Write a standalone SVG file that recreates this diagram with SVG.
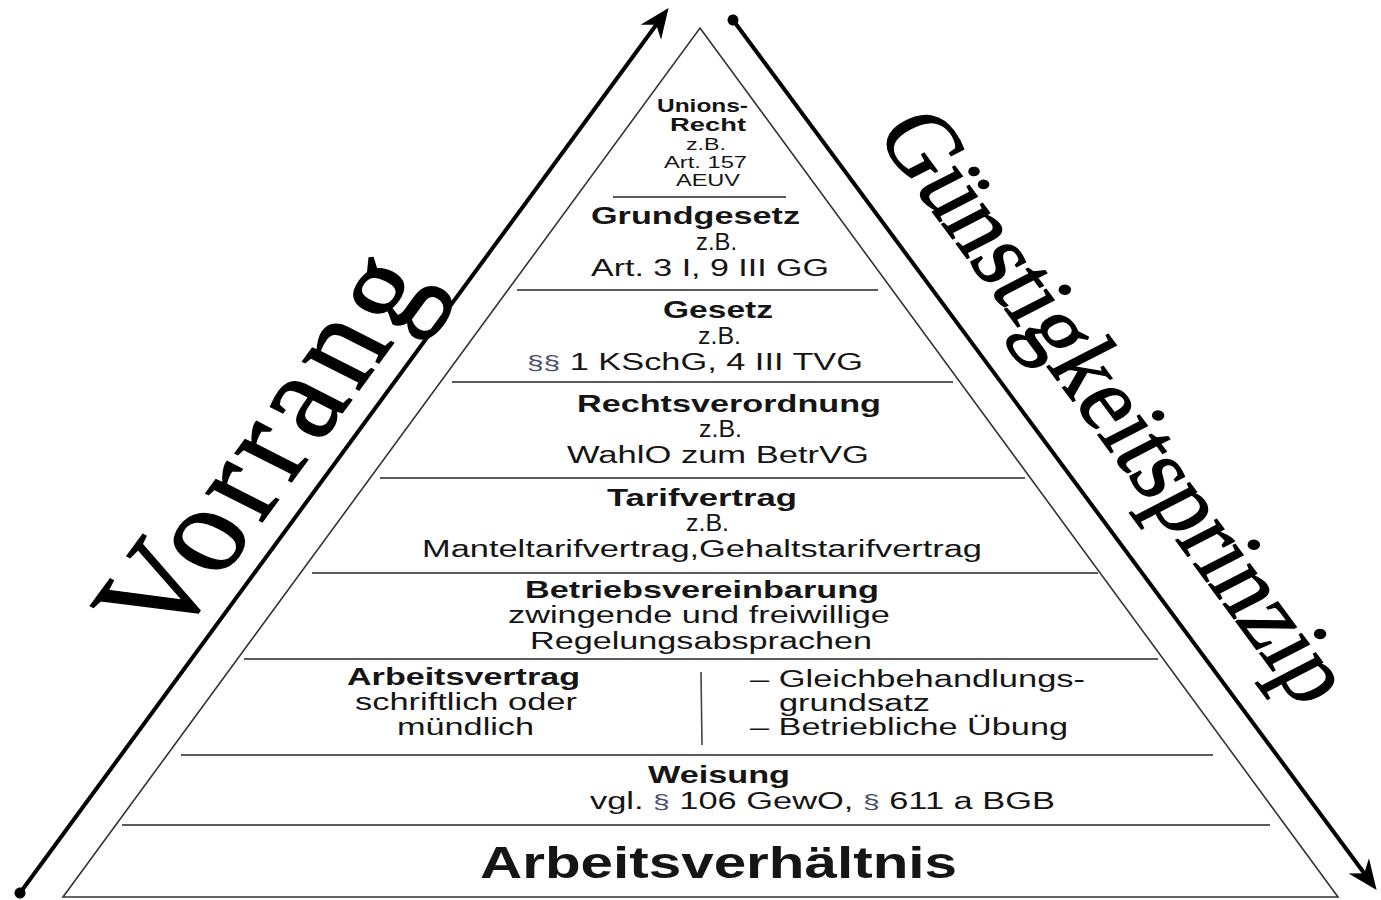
<svg xmlns="http://www.w3.org/2000/svg" width="1381" height="900" viewBox="0 0 1381 900">
<style>
.t{font-family:"Liberation Sans",Arial,sans-serif;font-size:23px;fill:#151515}
.b{font-weight:bold}
.s{font-size:16px}
.u{font-size:19px}
.p{fill:#44506a;font-size:20px}
.big{font-family:"Liberation Serif","Times New Roman",serif;fill:#000;stroke:#000;stroke-width:1.2}
.sep{stroke:#5a5a5a;stroke-width:2}
.arr{stroke:#000;stroke-width:4;fill:none}
</style>
<defs>
<marker id="head" markerUnits="userSpaceOnUse" markerWidth="40" markerHeight="30" viewBox="-14 -13 30 26" refX="0" refY="0" orient="auto" overflow="visible">
<path d="M14,0 L-12,-11 L-4,0 L-12,11 Z" fill="#000"/>
</marker>
<marker id="dot" markerUnits="userSpaceOnUse" markerWidth="14" markerHeight="14" viewBox="-7 -7 14 14" refX="0" refY="0" orient="auto">
<circle r="5.5" fill="#000"/>
</marker>
</defs>
<rect width="1381" height="900" fill="#fff"/>

<g id="connectors">
<path class="arr" d="M20,893 L659,21" marker-start="url(#dot)" marker-end="url(#head)"/>
<path class="arr" d="M733,20 L1367,877" marker-start="url(#dot)" marker-end="url(#head)"/>
</g>

<g id="pyramid">
<path d="M700,28 L1338,897 L63,897 Z" fill="none" stroke="#333" stroke-width="1.6"/>
<line class="sep" x1="613" y1="197" x2="786" y2="197"/>
<line class="sep" x1="517" y1="290" x2="878" y2="290"/>
<line class="sep" x1="452" y1="382" x2="953" y2="382"/>
<line class="sep" x1="380" y1="478" x2="1025" y2="478"/>
<line class="sep" x1="312" y1="573" x2="1098" y2="573"/>
<line class="sep" x1="244" y1="659" x2="1158" y2="659"/>
<line class="sep" x1="181" y1="755" x2="1213" y2="755"/>
<line class="sep" x1="122" y1="825" x2="1270" y2="825" stroke="#8a8a8a"/>
</g>

<g id="unionsrecht">
<text class="t b u" x="657" y="112" textLength="91" lengthAdjust="spacingAndGlyphs">Unions-</text>
<text class="t b u" x="670" y="131" textLength="76" lengthAdjust="spacingAndGlyphs">Recht</text>
<text class="t s" x="686" y="150" textLength="40" lengthAdjust="spacingAndGlyphs">z.B.</text>
<text class="t s" x="664" y="168" textLength="83" lengthAdjust="spacingAndGlyphs">Art. 157</text>
<text class="t s" x="676" y="186" textLength="64" lengthAdjust="spacingAndGlyphs">AEUV</text>
</g>

<g id="grundgesetz">
<text class="t b" x="591" y="224" textLength="209" lengthAdjust="spacingAndGlyphs">Grundgesetz</text>
<text class="t" x="696" y="250" textLength="41" lengthAdjust="spacingAndGlyphs">z.B.</text>
<text class="t" x="591" y="276" textLength="238" lengthAdjust="spacingAndGlyphs">Art. 3 I, 9 III GG</text>
</g>

<g id="gesetz">
<text class="t b" x="663" y="318" textLength="110" lengthAdjust="spacingAndGlyphs">Gesetz</text>
<text class="t" x="698" y="344" textLength="43" lengthAdjust="spacingAndGlyphs">z.B.</text>
<text class="t" x="527" y="370" textLength="336" lengthAdjust="spacingAndGlyphs"><tspan class="p">§§</tspan> 1 KSchG, 4 III TVG</text>
</g>

<g id="rechtsverordnung">
<text class="t b" x="577" y="412" textLength="304" lengthAdjust="spacingAndGlyphs">Rechtsverordnung</text>
<text class="t" x="699" y="437" textLength="43" lengthAdjust="spacingAndGlyphs">z.B.</text>
<text class="t" x="567" y="463" textLength="302" lengthAdjust="spacingAndGlyphs">WahlO zum BetrVG</text>
</g>

<g id="tarifvertrag">
<text class="t b" x="607" y="506" textLength="190" lengthAdjust="spacingAndGlyphs">Tarifvertrag</text>
<text class="t" x="686" y="531" textLength="43" lengthAdjust="spacingAndGlyphs">z.B.</text>
<text class="t" x="422" y="557" textLength="560" lengthAdjust="spacingAndGlyphs">Manteltarifvertrag,Gehaltstarifvertrag</text>
</g>

<g id="betriebsvereinbarung">
<text class="t b" x="525" y="598" textLength="354" lengthAdjust="spacingAndGlyphs">Betriebsvereinbarung</text>
<text class="t" x="508" y="623" textLength="382" lengthAdjust="spacingAndGlyphs">zwingende und freiwillige</text>
<text class="t" x="530" y="649" textLength="342" lengthAdjust="spacingAndGlyphs">Regelungsabsprachen</text>
</g>

<g id="arbeitsvertrag">
<text class="t b" x="347" y="685" textLength="233" lengthAdjust="spacingAndGlyphs">Arbeitsvertrag</text>
<text class="t" x="355" y="710" textLength="222" lengthAdjust="spacingAndGlyphs">schriftlich oder</text>
<text class="t" x="397" y="735" textLength="137" lengthAdjust="spacingAndGlyphs">mündlich</text>
<line x1="701" y1="672" x2="702" y2="745" stroke="#444" stroke-width="1.6"/>
<text class="t" x="750" y="687" textLength="335" lengthAdjust="spacingAndGlyphs">– Gleichbehandlungs-</text>
<text class="t" x="779" y="711" textLength="151" lengthAdjust="spacingAndGlyphs">grundsatz</text>
<text class="t" x="750" y="735" textLength="318" lengthAdjust="spacingAndGlyphs">– Betriebliche Übung</text>
</g>

<g id="weisung">
<text class="t b" x="648" y="783" textLength="142" lengthAdjust="spacingAndGlyphs">Weisung</text>
<text class="t" x="590" y="809" textLength="465" lengthAdjust="spacingAndGlyphs">vgl. <tspan class="p">§</tspan> 106 GewO, <tspan class="p">§</tspan> 611 a BGB</text>
</g>

<g id="arbeitsverhaeltnis">
<text class="t b" x="480" y="878" style="font-size:45px" textLength="477" lengthAdjust="spacingAndGlyphs">Arbeitsverhältnis</text>
</g>

<g id="vorrang">
<text class="big" transform="translate(170,648) scale(1.2,1) rotate(-58.6)" style="font-size:120px;letter-spacing:7px">Vorrang</text>
</g>

<g id="guenstigkeitsprinzip">
<text class="big" transform="translate(874,133) scale(1.2,1) rotate(58.3)" style="font-size:87px;letter-spacing:-0.5px">Günstigkeitsprinzip</text>
</g>
</svg>
